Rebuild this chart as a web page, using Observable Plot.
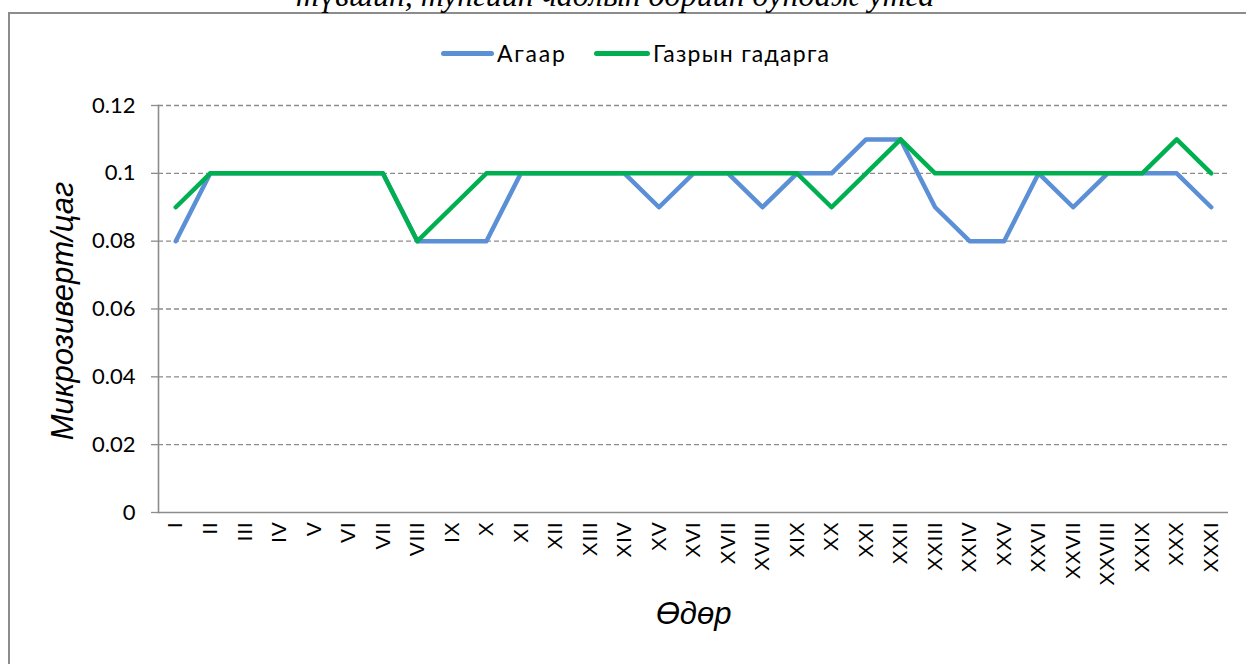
<!DOCTYPE html>
<html>
<head>
<meta charset="utf-8">
<script src="https://cdn.jsdelivr.net/npm/d3@7"></script>
<script src="https://cdn.jsdelivr.net/npm/@observablehq/plot@0.6"></script>
<style>
  html, body { margin: 0; padding: 0; background: #fff; }
  body { width: 1246px; height: 664px; position: relative; overflow: hidden; }
  #chart { position: absolute; left: 0; top: 0; }
  #border { position: absolute; left: 8px; top: 12px; width: 1300px; height: 700px;
            border-left: 2px solid #8c8c8c; border-top: 2px solid #8c8c8c; }
  #title { position: absolute; left: 0; width: 1230px; top: -17px; text-align: center;
           font: italic 32px "Liberation Serif", serif; line-height: 24px; color: #000; white-space: nowrap; }
  .leg { position: absolute; top: 41px; font: 23px Lato, sans-serif; color: #000; line-height: 24px; }
  .sw { position: absolute; top: 51px; height: 5px; border-radius: 3px; }
</style>
</head>
<body>
<div id="border"></div>
<div id="title">түвшин, тунгийн чадлын өдрийн дундаж утга</div>
<div id="chart"></div>
<div class="sw" style="left:441px;width:53px;background:#5b8fd6"></div>
<div class="leg" style="left:497px;letter-spacing:1.8px">Агаар</div>
<div class="sw" style="left:594px;width:56px;background:#00b050"></div>
<div class="leg" style="left:653px;letter-spacing:1.3px">Газрын гадарга</div>
<script>
const days = ["I","II","III","IV","V","VI","VII","VIII","IX","X","XI","XII","XIII","XIV","XV","XVI",
  "XVII","XVIII","XIX","XX","XXI","XXII","XXIII","XXIV","XXV","XXVI","XXVII","XXVIII","XXIX","XXX","XXXI"];
const air = [0.08,0.1,0.1,0.1,0.1,0.1,0.1,0.08,0.08,0.08,0.1,0.1,0.1,0.1,0.09,0.1,
  0.1,0.09,0.1,0.1,0.11,0.11,0.09,0.08,0.08,0.1,0.09,0.1,0.1,0.1,0.09];
const ground = [0.09,0.1,0.1,0.1,0.1,0.1,0.1,0.08,0.09,0.1,0.1,0.1,0.1,0.1,0.1,0.1,
  0.1,0.1,0.1,0.09,0.1,0.11,0.1,0.1,0.1,0.1,0.1,0.1,0.1,0.11,0.1];
const seriesNames = ["Агаар", "Газрын гадарга"];
const seriesColors = ["#5b8fd6", "#00b050"];
const yTicks = [0, 0.02, 0.04, 0.06, 0.08, 0.1, 0.12];
const xTitle = "Өдөр";
const yTitle = "Микрозиверт/цаг";

const rows = [];
days.forEach((d, i) => rows.push({day: d, value: air[i], series: seriesNames[0]}));
days.forEach((d, i) => rows.push({day: d, value: ground[i], series: seriesNames[1]}));

const chart = Plot.plot({
  width: 1246,
  height: 664,
  marginLeft: 158,
  marginRight: 18,
  marginTop: 105,
  marginBottom: 152,
  style: {background: "transparent", overflow: "visible"},
  x: {type: "point", domain: days, padding: 0.5, round: false, axis: null},
  y: {domain: [0, 0.12], axis: null},
  color: {domain: seriesNames, range: seriesColors},
  marks: [
    Plot.gridY(yTicks.filter(d => d > 0), {stroke: "#8c8c8c", strokeOpacity: 1, strokeWidth: 1.3, strokeDasharray: "5,3"}),
    Plot.axisY(yTicks, {tickSize: 7, tickPadding: 16, fontSize: 22, fontFamily: "Lato, sans-serif",
      tickFormat: d => String(d), label: null, stroke: "#8c8c8c", fill: "#000", strokeWidth: 1.3}),
    Plot.axisX(days, {tickSize: 0, tickPadding: 9, tickRotate: -90, fontSize: 21,
      fontFamily: "Liberation Sans, Arial, sans-serif", label: null, fill: "#000"}),
    Plot.ruleY([0], {stroke: "#8c8c8c", strokeWidth: 1.6}),
    Plot.frame({anchor: "left", stroke: "#8c8c8c", strokeWidth: 1.6}),
    Plot.lineY(rows, {x: "day", y: "value", z: "series", stroke: "series", strokeWidth: 4.5,
      strokeLinecap: "round", strokeLinejoin: "round"}),
    Plot.text([xTitle], {frameAnchor: "bottom", dy: 111, fontSize: 31, fontStyle: "italic", textAnchor: "middle",
      fontFamily: "Liberation Sans, Arial, sans-serif", fill: "#000", ariaLabel: "xtitle"}),
    Plot.text([yTitle], {frameAnchor: "left", dx: -95, dy: 2, rotate: -90, fontSize: 31, fontStyle: "italic",
      textAnchor: "middle", fontFamily: "Liberation Sans, Arial, sans-serif", fill: "#000", ariaLabel: "ytitle"})
  ]
});
document.getElementById("chart").appendChild(chart);
d3.select(chart).selectAll('g[aria-label="ytitle"] text').attr("letter-spacing", "4.5px");
d3.select(chart).selectAll("text")
  .filter(function() { return days.includes(this.textContent); })
  .attr("letter-spacing", "0.8px");
</script>
</body>
</html>
